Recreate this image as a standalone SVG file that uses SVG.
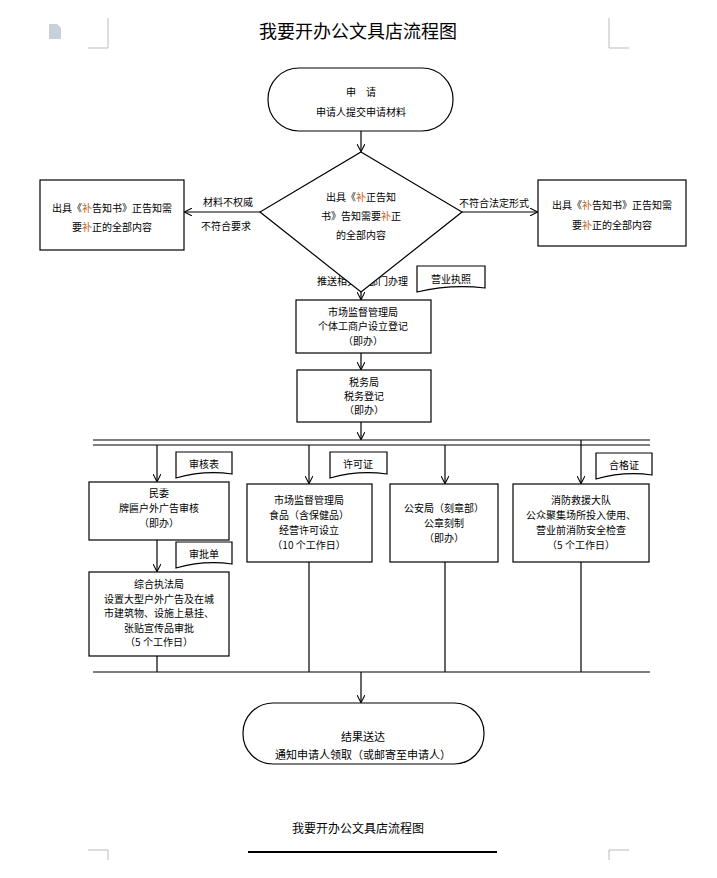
<svg xmlns="http://www.w3.org/2000/svg" width="717" height="878" viewBox="0 0 717 878">
<style>
text{font-family:"Noto Sans CJK SC","Liberation Sans",sans-serif;font-size:10px;text-anchor:middle;fill:#000}
.b{fill:#fff;stroke:#000;stroke-width:1.2}
.l{fill:none;stroke:#000;stroke-width:1.2}
.o{fill:#c0651a}
.c{stroke:#bbb;stroke-width:1;fill:none}
</style>
<defs><marker id="a" viewBox="0 0 10 10" refX="9" refY="5" markerWidth="8" markerHeight="8" orient="auto" markerUnits="userSpaceOnUse"><path d="M0,0L10,5L0,10" fill="none" stroke="#000" stroke-width="1.3"/></marker></defs>
<rect width="717" height="878" fill="#fff"/>
<path class="c" d="M108,18V48H88M609,18V48H629M108,860V850H88M609,860V850H629"/>
<path d="M49,24h8l4,4v11h-12z" fill="#c8d0dc"/>
<text x="358" y="38" style="font-size:18px">我要开办公文具店流程图</text>
<g id="connectors" class="l">
<path d="M361,131V151" marker-end="url(#a)"/>
<path d="M260,212H185" marker-end="url(#a)"/>
<path d="M462,212H537" marker-end="url(#a)"/>
<path d="M361,292V299" marker-end="url(#a)"/>
<path d="M361,353V369" marker-end="url(#a)"/>
<path d="M361,422V439" marker-end="url(#a)"/>
<path d="M93,440H650M93,445H650"/>
<path d="M157,445V481" marker-end="url(#a)"/>
<path d="M309,445V483" marker-end="url(#a)"/>
<path d="M445,445V483" marker-end="url(#a)"/>
<path d="M581,440V483" marker-end="url(#a)"/>
<path d="M157,540V571" marker-end="url(#a)"/>
<path d="M157,656V672M309,562V672M445,562V672M581,562V672M93,672H650"/>
<path d="M361,672V702" marker-end="url(#a)"/>
</g>
<text x="228" y="206">材料不权威</text><text x="226" y="230">不符合要求</text>
<text x="494" y="207">不符合法定形式</text>
<text x="337" y="285">推送相关</text><text x="388" y="285">部门办理</text>
<g id="start"><rect class="b" x="268" y="68" width="185" height="63" rx="31"/><text x="361" y="96">申　请</text><text x="361" y="116">申请人提交申请材料</text></g>
<g id="diamond"><path class="b" d="M361,152L462,212L361,292L260,212Z"/><text x="361" y="201">出具《<tspan class="o">补</tspan>正告知</text><text x="361" y="220">书》告知需要<tspan class="o">补</tspan>正</text><text x="361" y="239">的全部内容</text></g>
<g id="left"><rect class="b" x="40" y="180" width="144" height="70"/><text x="112" y="212">出具《<tspan class="o">补</tspan>告知书》正告知需</text><text x="112" y="231">要<tspan class="o">补</tspan>正的全部内容</text></g>
<g id="right"><rect class="b" x="538" y="180" width="148" height="66"/><text x="612" y="209">出具《<tspan class="o">补</tspan>告知书》正告知需</text><text x="612" y="229">要<tspan class="o">补</tspan>正的全部内容</text></g>
<g id="doc1"><path class="b" d="M417,266H485V288Q451,284 417,292Z"/><text x="451" y="283">营业执照</text></g>
<g id="scjg"><rect class="b" x="296" y="300" width="135" height="53"/><text x="363" y="316">市场监督管理局</text><text x="363" y="330">个体工商户设立登记</text><text x="363" y="345">（即办）</text></g>
<g id="sw"><rect class="b" x="297" y="370" width="134" height="52"/><text x="364" y="386">税务局</text><text x="364" y="400">税务登记</text><text x="364" y="414">（即办）</text></g>
<g id="doc2"><path class="b" d="M176,452H232V474Q204,470 176,478Z"/><text x="204" y="468">审核表</text></g>
<g id="doc3"><path class="b" d="M330,452H387V474Q358,470 330,478Z"/><text x="358" y="468">许可证</text></g>
<g id="doc4"><path class="b" d="M596,453H652V475Q624,471 596,479Z"/><text x="624" y="469">合格证</text></g>
<g id="doc5"><path class="b" d="M176,542H232V564Q204,560 176,568Z"/><text x="204" y="558">审批单</text></g>
<g id="mw"><rect class="b" x="89" y="482" width="140" height="58"/><text x="159" y="497">民委</text><text x="159" y="512">牌匾户外广告审核</text><text x="159" y="527">（即办）</text></g>
<g id="scjg2"><rect class="b" x="247" y="484" width="125" height="78"/><text x="309" y="504">市场监督管理局</text><text x="309" y="519">食品（含保健品）</text><text x="309" y="534">经营许可设立</text><text x="309" y="549">（10 个工作日）</text></g>
<g id="ga"><rect class="b" x="390" y="484" width="108" height="78"/><text x="444" y="512">公安局（刻章部）</text><text x="444" y="527">公章刻制</text><text x="444" y="542">（即办）</text></g>
<g id="xf"><rect class="b" x="513" y="484" width="136" height="78"/><text x="581" y="504">消防救援大队</text><text x="581" y="519">公众聚集场所投入使用、</text><text x="581" y="534">营业前消防安全检查</text><text x="581" y="549">（5 个工作日）</text></g>
<g id="zh"><rect class="b" x="89" y="572" width="140" height="84"/><text x="159" y="588">综合执法局</text><text x="159" y="603">设置大型户外广告及在城</text><text x="159" y="617">市建筑物、设施上悬挂、</text><text x="159" y="632">张贴宣传品审批</text><text x="159" y="646">（5 个工作日）</text></g>
<g id="end"><rect class="b" x="243" y="703" width="241" height="61" rx="30"/><text x="363" y="741" style="font-size:11px">结果送达</text><text x="363" y="759" style="font-size:11px">通知申请人领取（或邮寄至申请人）</text></g>
<text x="358" y="833" style="font-size:12px">我要开办公文具店流程图</text>
<path d="M248,852H497" stroke="#000" stroke-width="2"/>
</svg>
